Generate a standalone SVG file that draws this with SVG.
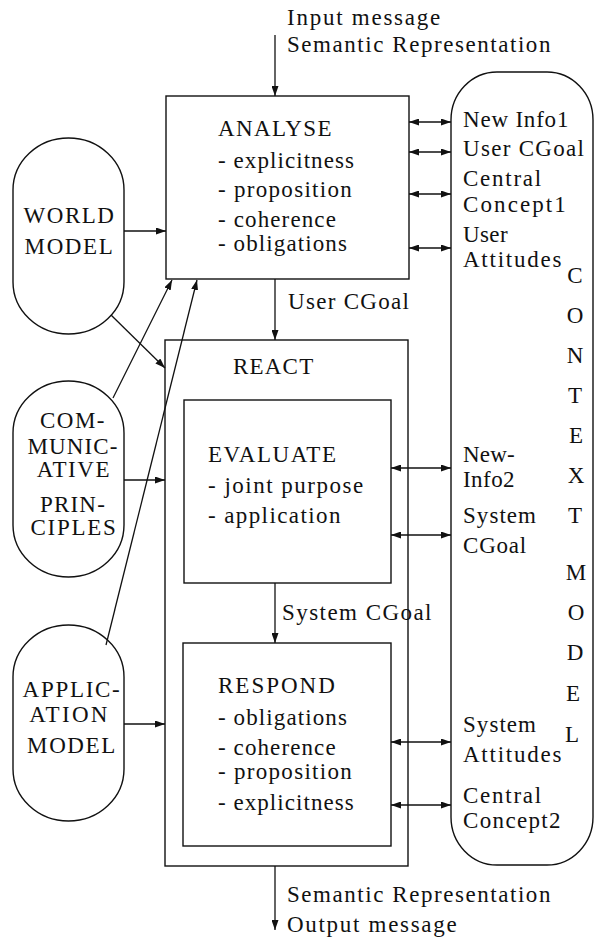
<svg xmlns="http://www.w3.org/2000/svg" width="596" height="941" viewBox="0 0 596 941">
  <style>
    .box { fill: none; stroke: #111; stroke-width: 1.4; }
    .ln { fill: none; stroke: #111; stroke-width: 1.3; }
  </style>
  <defs>
    <marker id="ah" viewBox="0 0 10 7" markerWidth="10" markerHeight="7" refX="10" refY="3.5" markerUnits="userSpaceOnUse" orient="auto-start-reverse">
      <path d="M0,0 L10,3.5 L0,7 z" fill="#111"/>
    </marker>
  </defs>
  <rect width="596" height="941" fill="#fff"/>

  <!-- input / output labels -->
  <g id="io-text">
    <text x="287" y="25" font-family="Liberation Serif" font-size="23" fill="#111" letter-spacing="1.75">Input message</text>
    <text x="287" y="52" font-family="Liberation Serif" font-size="23" fill="#111" letter-spacing="1.55">Semantic Representation</text>
    <text x="287" y="902" font-family="Liberation Serif" font-size="23" fill="#111" letter-spacing="1.55">Semantic Representation</text>
    <text x="287" y="932" font-family="Liberation Serif" font-size="23" fill="#111" letter-spacing="1.7">Output message</text>
  </g>

  <!-- left-hand knowledge sources -->
  <g id="world-model">
    <rect class="box" x="13" y="138" width="111" height="196" rx="55.5" ry="52"/>
    <text x="69.5" y="223" text-anchor="middle" font-family="Liberation Serif" font-size="23" fill="#111" letter-spacing="1.5">WORLD</text>
    <text x="69.5" y="254" text-anchor="middle" font-family="Liberation Serif" font-size="23" fill="#111" letter-spacing="1.6">MODEL</text>
  </g>
  <g id="communicative-principles">
    <rect class="box" x="13" y="381" width="111" height="196" rx="55.5" ry="52"/>
    <text x="73" y="428" text-anchor="middle" font-family="Liberation Serif" font-size="23" fill="#111" letter-spacing="1.5">COM-</text>
    <text x="73" y="454" text-anchor="middle" font-family="Liberation Serif" font-size="23" fill="#111" letter-spacing="1.1">MUNIC-</text>
    <text x="74" y="477" text-anchor="middle" font-family="Liberation Serif" font-size="23" fill="#111" letter-spacing="1.6">ATIVE</text>
    <text x="73" y="512" text-anchor="middle" font-family="Liberation Serif" font-size="23" fill="#111" letter-spacing="1.2">PRIN-</text>
    <text x="74" y="535" text-anchor="middle" font-family="Liberation Serif" font-size="23" fill="#111" letter-spacing="1.7">CIPLES</text>
  </g>
  <g id="application-model">
    <rect class="box" x="13" y="625" width="111" height="196" rx="55.5" ry="52"/>
    <text x="72" y="697" text-anchor="middle" font-family="Liberation Serif" font-size="23" fill="#111" letter-spacing="1.7">APPLIC-</text>
    <text x="69.5" y="722" text-anchor="middle" font-family="Liberation Serif" font-size="23" fill="#111" letter-spacing="2.3">ATION</text>
    <text x="72" y="753" text-anchor="middle" font-family="Liberation Serif" font-size="23" fill="#111" letter-spacing="1.6">MODEL</text>
  </g>

  <!-- processing modules -->
  <g id="analyse">
    <rect class="box" x="166" y="96" width="243" height="183"/>
    <text x="218" y="136" font-family="Liberation Serif" font-size="23" fill="#111" letter-spacing="1.4">ANALYSE</text>
    <text x="218" y="168" font-family="Liberation Serif" font-size="23" fill="#111" letter-spacing="1.07">- explicitness</text>
    <text x="218" y="197" font-family="Liberation Serif" font-size="23" fill="#111" letter-spacing="1.3">- proposition</text>
    <text x="218" y="227" font-family="Liberation Serif" font-size="23" fill="#111" letter-spacing="1.13">- coherence</text>
    <text x="218" y="251" font-family="Liberation Serif" font-size="23" fill="#111" letter-spacing="1.1">- obligations</text>
  </g>
  <g id="react">
    <rect class="box" x="165" y="340" width="243" height="526"/>
    <text x="233" y="374" font-family="Liberation Serif" font-size="23" fill="#111" letter-spacing="1.2">REACT</text>
  </g>
  <g id="evaluate">
    <rect class="box" x="184" y="400" width="207" height="183"/>
    <text x="208" y="462" font-family="Liberation Serif" font-size="23" fill="#111" letter-spacing="1.55">EVALUATE</text>
    <text x="208" y="493" font-family="Liberation Serif" font-size="23" fill="#111" letter-spacing="1.5">- joint purpose</text>
    <text x="208" y="523" font-family="Liberation Serif" font-size="23" fill="#111" letter-spacing="1.4">- application</text>
  </g>
  <g id="respond">
    <rect class="box" x="183" y="643" width="208" height="203"/>
    <text x="218" y="693" font-family="Liberation Serif" font-size="23" fill="#111" letter-spacing="2">RESPOND</text>
    <text x="218" y="725" font-family="Liberation Serif" font-size="23" fill="#111" letter-spacing="1.1">- obligations</text>
    <text x="218" y="755" font-family="Liberation Serif" font-size="23" fill="#111" letter-spacing="1.1">- coherence</text>
    <text x="218" y="779" font-family="Liberation Serif" font-size="23" fill="#111" letter-spacing="1.3">- proposition</text>
    <text x="218" y="810" font-family="Liberation Serif" font-size="23" fill="#111" letter-spacing="1.05">- explicitness</text>
  </g>

  <!-- shared context store -->
  <g id="context-model">
    <rect class="box" x="451" y="72" width="142" height="793" rx="46" ry="48"/>
    <text x="463" y="127" font-family="Liberation Serif" font-size="23" fill="#111" letter-spacing="0.8">New Info1</text>
    <text x="463" y="156" font-family="Liberation Serif" font-size="23" fill="#111" letter-spacing="1.3">User CGoal</text>
    <text x="463" y="186" font-family="Liberation Serif" font-size="23" fill="#111" letter-spacing="1.75">Central</text>
    <text x="463" y="212" font-family="Liberation Serif" font-size="23" fill="#111" letter-spacing="2.1">Concept1</text>
    <text x="463" y="242" font-family="Liberation Serif" font-size="23" fill="#111" letter-spacing="0.4">User</text>
    <text x="463" y="267" font-family="Liberation Serif" font-size="23" fill="#111" letter-spacing="1.75">Attitudes</text>
    <text x="463" y="462" font-family="Liberation Serif" font-size="23" fill="#111" letter-spacing="0.2">New-</text>
    <text x="463" y="487" font-family="Liberation Serif" font-size="23" fill="#111" letter-spacing="0.45">Info2</text>
    <text x="463" y="523" font-family="Liberation Serif" font-size="23" fill="#111" letter-spacing="1.05">System</text>
    <text x="463" y="553" font-family="Liberation Serif" font-size="23" fill="#111" letter-spacing="0.8">CGoal</text>
    <text x="463" y="732" font-family="Liberation Serif" font-size="23" fill="#111" letter-spacing="1.05">System</text>
    <text x="463" y="762" font-family="Liberation Serif" font-size="23" fill="#111" letter-spacing="1.75">Attitudes</text>
    <text x="463" y="803" font-family="Liberation Serif" font-size="23" fill="#111" letter-spacing="1.75">Central</text>
    <text x="463" y="828" font-family="Liberation Serif" font-size="23" fill="#111" letter-spacing="1.35">Concept2</text>
    <text x="575" y="283" text-anchor="middle" font-family="Liberation Serif" font-size="23" fill="#111">C</text>
    <text x="575" y="323" text-anchor="middle" font-family="Liberation Serif" font-size="23" fill="#111">O</text>
    <text x="575" y="363" text-anchor="middle" font-family="Liberation Serif" font-size="23" fill="#111">N</text>
    <text x="575" y="403" text-anchor="middle" font-family="Liberation Serif" font-size="23" fill="#111">T</text>
    <text x="576" y="443" text-anchor="middle" font-family="Liberation Serif" font-size="23" fill="#111">E</text>
    <text x="576" y="483" text-anchor="middle" font-family="Liberation Serif" font-size="23" fill="#111">X</text>
    <text x="575" y="523" text-anchor="middle" font-family="Liberation Serif" font-size="23" fill="#111">T</text>
    <text x="576" y="580" text-anchor="middle" font-family="Liberation Serif" font-size="23" fill="#111">M</text>
    <text x="576" y="620" text-anchor="middle" font-family="Liberation Serif" font-size="23" fill="#111">O</text>
    <text x="575" y="660" text-anchor="middle" font-family="Liberation Serif" font-size="23" fill="#111">D</text>
    <text x="573" y="701" text-anchor="middle" font-family="Liberation Serif" font-size="23" fill="#111">E</text>
    <text x="572" y="742" text-anchor="middle" font-family="Liberation Serif" font-size="23" fill="#111">L</text>
  </g>

  <!-- connectors -->
  <g id="connectors" class="ln">
    <line x1="275" y1="35" x2="275" y2="96" marker-end="url(#ah)"/>
    <line x1="275" y1="279" x2="275" y2="340" marker-end="url(#ah)"/>
    <line x1="275" y1="583" x2="275" y2="643" marker-end="url(#ah)"/>
    <line x1="275" y1="866" x2="275" y2="930" marker-end="url(#ah)"/>

    <line x1="124" y1="231" x2="166" y2="231" marker-end="url(#ah)"/>
    <line x1="124" y1="480" x2="165" y2="480" marker-end="url(#ah)"/>
    <line x1="124" y1="724" x2="165" y2="724" marker-end="url(#ah)"/>

    <line x1="111" y1="315" x2="165" y2="368" marker-end="url(#ah)"/>
    <line x1="113" y1="398" x2="172" y2="280" marker-end="url(#ah)"/>
    <line x1="106" y1="645" x2="197" y2="280" marker-end="url(#ah)"/>

    <line x1="409" y1="122" x2="451" y2="122" marker-start="url(#ah)" marker-end="url(#ah)"/>
    <line x1="409" y1="152" x2="451" y2="152" marker-start="url(#ah)" marker-end="url(#ah)"/>
    <line x1="409" y1="194" x2="451" y2="194" marker-start="url(#ah)" marker-end="url(#ah)"/>
    <line x1="409" y1="248" x2="451" y2="248" marker-start="url(#ah)" marker-end="url(#ah)"/>
    <line x1="391" y1="468" x2="451" y2="468" marker-start="url(#ah)" marker-end="url(#ah)"/>
    <line x1="391" y1="535" x2="451" y2="535" marker-start="url(#ah)" marker-end="url(#ah)"/>
    <line x1="391" y1="742" x2="451" y2="742" marker-start="url(#ah)" marker-end="url(#ah)"/>
    <line x1="391" y1="805" x2="451" y2="805" marker-start="url(#ah)" marker-end="url(#ah)"/>
  </g>
  <g id="connector-labels">
    <text x="288" y="309" font-family="Liberation Serif" font-size="23" fill="#111" letter-spacing="1.3">User CGoal</text>
    <text x="282" y="620" font-family="Liberation Serif" font-size="23" fill="#111" letter-spacing="1.45">System CGoal</text>
  </g>
</svg>
